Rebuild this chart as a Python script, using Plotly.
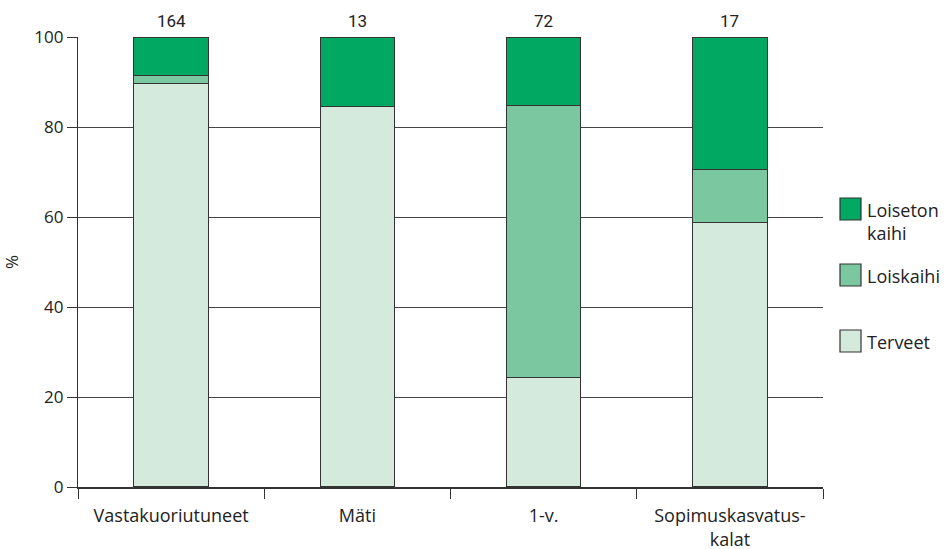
import plotly.graph_objects as go

categories = ["Vastakuoriutuneet", "Mäti", "1-v.", "Sopimuskasvatus-<br>kalat"]
counts = ["164", "13", "72", "17"]
terveet = [89.6, 84.6, 24.4, 58.8]
loiskaihi = [1.8, 0.0, 60.3, 11.8]
loiseton = [8.6, 15.4, 15.3, 29.4]
series_names = ["Terveet", "Loiskaihi", "Loiseton<br>kaihi"]
colors = ["#D3EADD", "#7BC8A0", "#00A862"]
y_ticks = [0, 20, 40, 60, 80, 100]

FONT = "Open Sans, Noto Sans, sans-serif"
NARROW = "Liberation Sans Narrow, Roboto, sans-serif"
FS = 18
FT = 17

fig = go.Figure()
for name, vals, col in zip(series_names, [terveet, loiskaihi, loiseton], colors):
    fig.add_trace(go.Bar(
        x=categories, y=vals, name=name, width=0.4,
        marker=dict(color=col, line=dict(color="#333333", width=1.2)),
        showlegend=False, hoverinfo="y",
    ))

# counts above bars
for c, n in zip(categories, counts):
    fig.add_annotation(x=c, y=1, xref="x", yref="paper", text=n, showarrow=False,
                       yanchor="bottom", yshift=4, font=dict(size=FT, color="#222222", family=NARROW))

# legend drawn manually
x0, x1 = 840, 861
W, H = 952, 549
L, R, T, B = 78, 823, 37, 487
def px(x):
    return (x - L) / (R - L)
def py(y):
    return (B - y) / (B - T)
legend_rows = [(series_names[2], colors[2], 209), (series_names[1], colors[1], 275), (series_names[0], colors[0], 341)]
for name, col, cy in legend_rows:
    fig.add_shape(type="rect", xref="paper", yref="paper", x0=px(x0), x1=px(x1),
                  y0=py(cy + 11), y1=py(cy - 11), fillcolor=col,
                  line=dict(color="#333333", width=1.2))
    fig.add_annotation(xref="paper", yref="paper", x=px(865), y=py(cy - 13), text=name,
                       showarrow=False, xanchor="left", yanchor="top", align="left",
                       font=dict(size=FS, color="#222222", family=FONT))

fig.update_layout(
    barmode="stack",
    width=W, height=H,
    margin=dict(l=L, r=W - R, t=T, b=H - B),
    paper_bgcolor="white", plot_bgcolor="white",
    font=dict(family=FONT, size=FS, color="#222222"),
    xaxis=dict(
        tickson="boundaries", ticks="outside", ticklen=10, tickcolor="#333333",
        showline=True, linecolor="#333333", linewidth=1.5, showgrid=False,
        tickfont=dict(size=FS), range=[-0.5, 3.5], automargin=False,
        ticklabelstandoff=12,
    ),
    yaxis=dict(
        range=[0, 100], tickvals=y_ticks, ticks="outside", ticklen=10,
        tickcolor="#333333", showline=True, linecolor="#333333", linewidth=1.2,
        showgrid=True, gridcolor="#444444", gridwidth=1, zeroline=False,
        title=dict(text="%", standoff=22, font=dict(size=FT)), tickfont=dict(size=FT),
        automargin=False,
    ),
)

fig.write_html("out.html", config={"displayModeBar": False},
               post_script="document.body.style.margin='0';document.body.style.overflow='hidden';")
